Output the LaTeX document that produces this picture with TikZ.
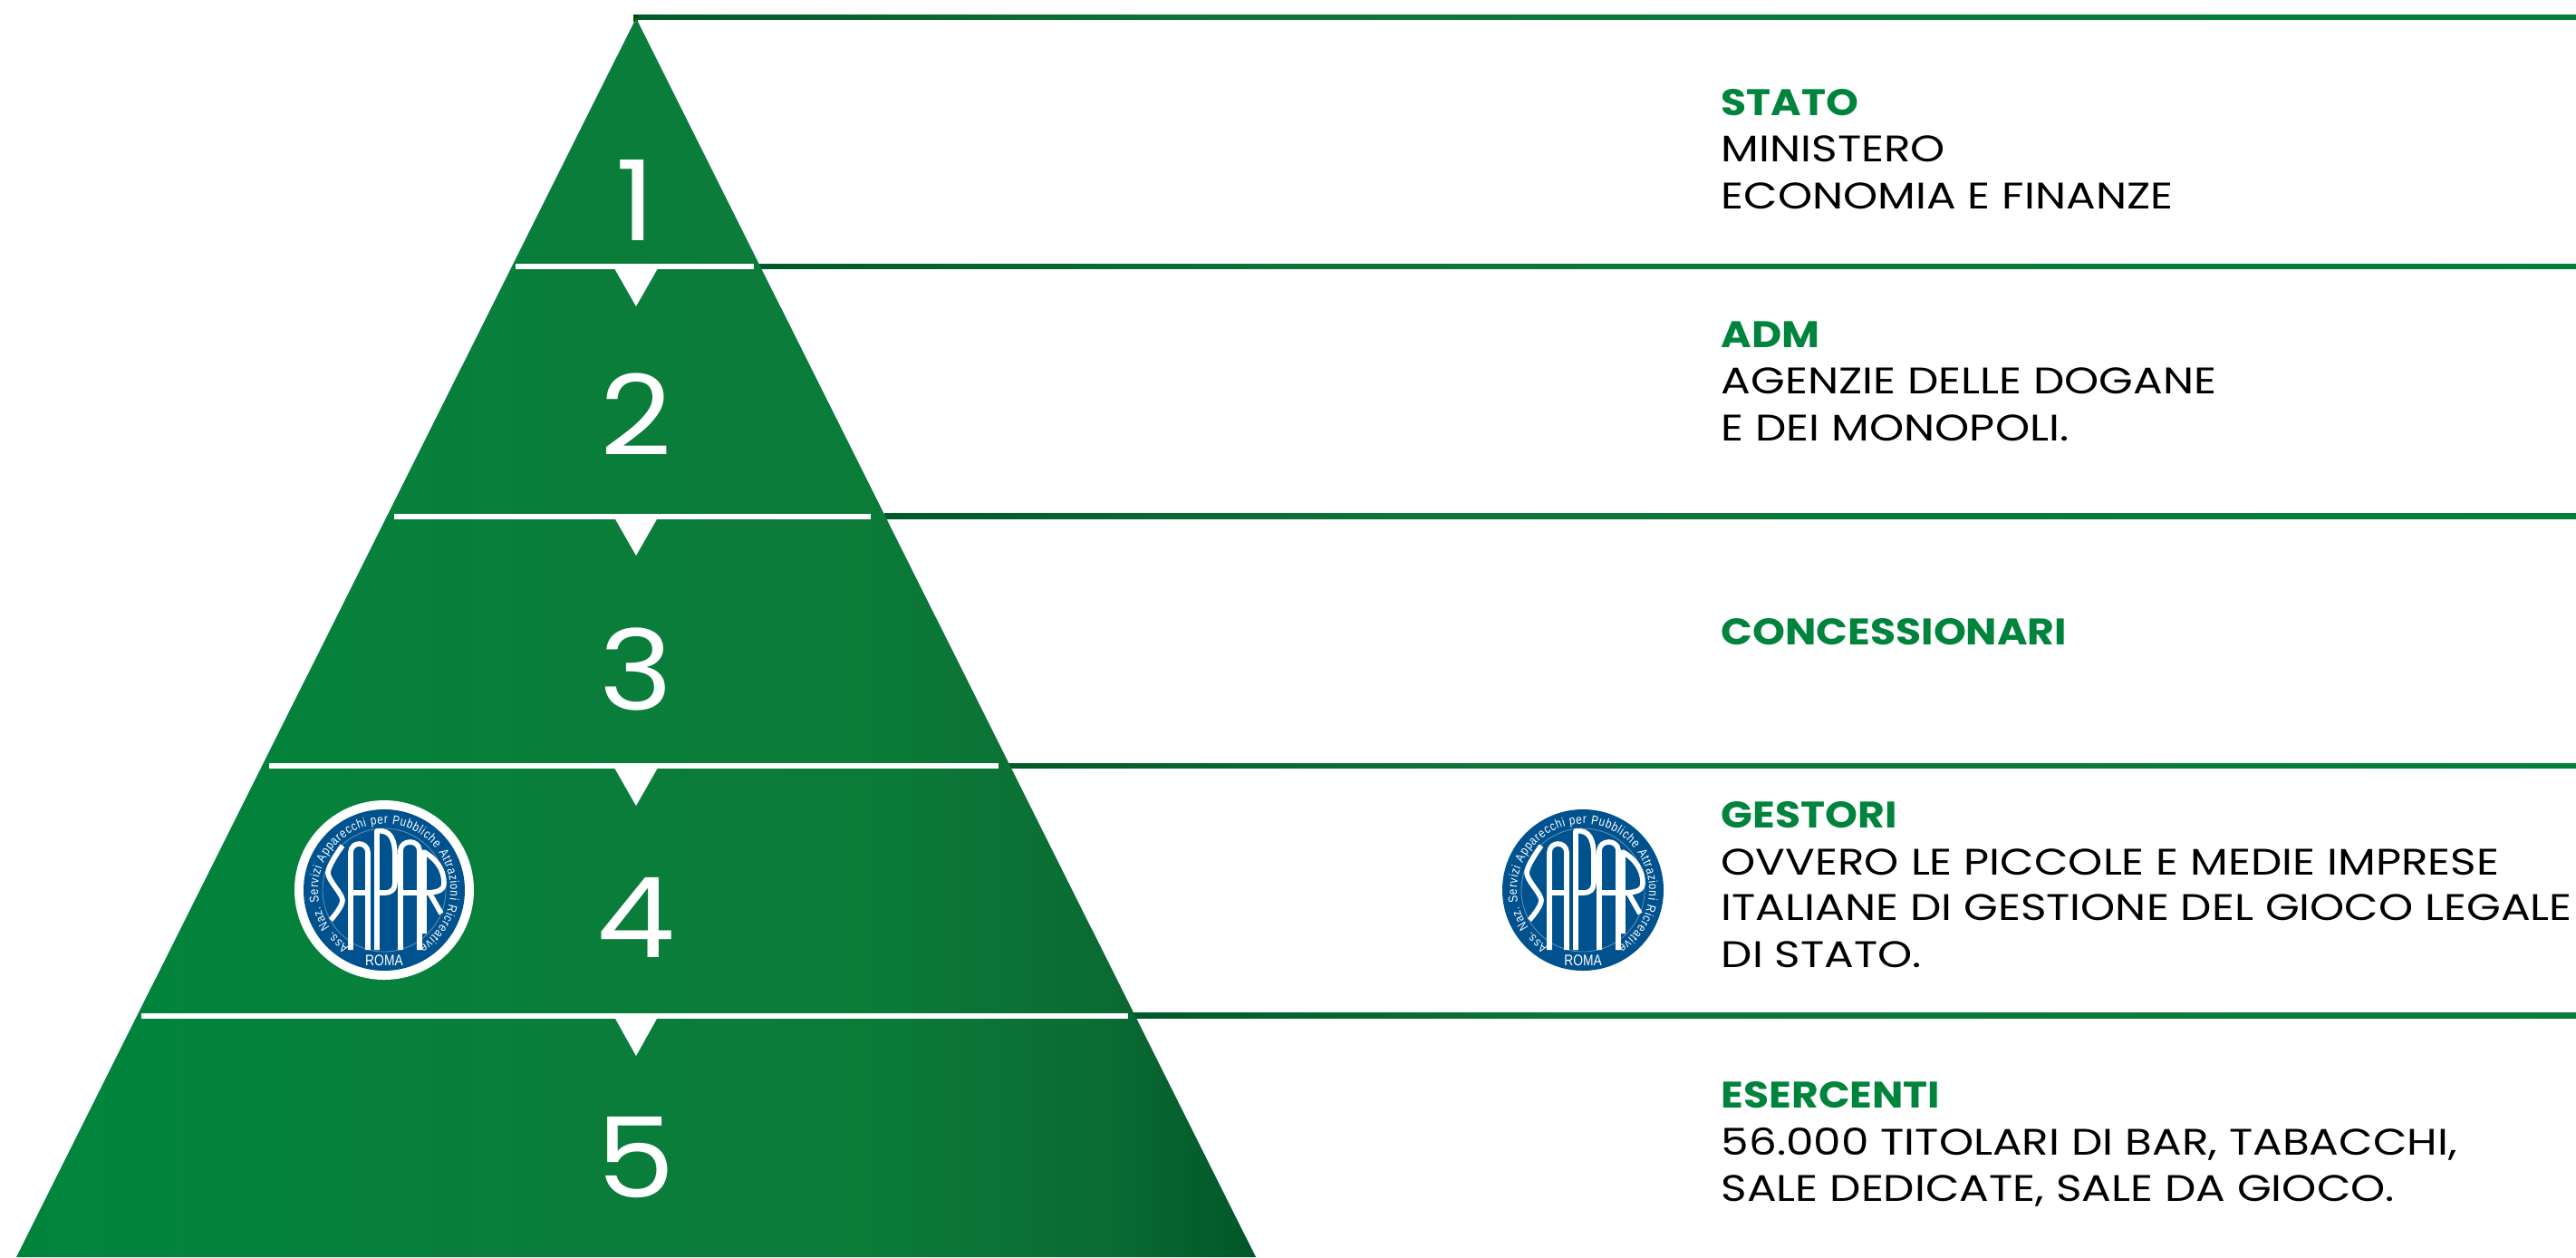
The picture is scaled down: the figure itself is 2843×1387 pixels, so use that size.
\documentclass[tikz,border=0pt]{standalone}
\usepackage{fontspec}
\usepackage{tikz}
\usetikzlibrary{decorations.text}
\setmainfont[FakeStretch=1.19]{Poppins}
\newfontfamily\headfont[FakeStretch=1.12]{Poppins Bold}
\newfontfamily\numfont[FakeStretch=1.12]{Poppins}
\newfontfamily\logofont[FakeStretch=0.82]{Liberation Sans}
\definecolor{headgreen}{HTML}{00843D}
\definecolor{saparblue}{HTML}{00528F}
\definecolor{saparrule}{HTML}{5C8DB8}
\pgfdeclarehorizontalshading{pyramidfill}{100bp}{rgb(0bp)=(0,0.52,0.23); rgb(25bp)=(0,0.52,0.23); rgb(50bp)=(0.04,0.49,0.23); rgb(60bp)=(0.045,0.48,0.22); rgb(69bp)=(0.04,0.42,0.2); rgb(75bp)=(0,0.34,0.16); rgb(100bp)=(0,0.34,0.16)}
\pgfdeclarehorizontalshading{levelfill}{100bp}{rgb(0bp)=(0,0.35,0.16); rgb(25bp)=(0,0.35,0.16); rgb(40bp)=(0.05,0.46,0.22); rgb(75bp)=(0,0.5,0.23); rgb(100bp)=(0,0.5,0.23)}
\newcommand{\saparlogo}[2]{
	\begin{scope}[shift={#1}]
		\fill [saparblue] (0,0) circle (89);
		\draw [saparrule,line width=0.25pt] (0,0) circle (68);
		\draw [white,line width=1.6pt,line join=round] plot [smooth] coordinates {(-46,49) (-62,19) (-46,-11) (-59,-33)};
		\draw [white,line width=1.6pt,line join=round] (-37,-66) -- (-37,42) .. controls (-36,54) and (-19,54) .. (-18,42) -- (-18,-66);
		\draw [white,line width=1.6pt,line join=round] (-37,-3) -- (-18,-3);
		\draw [white,line width=1.6pt,line join=round] (-8,-66) -- (-8,65) .. controls (8,67) and (12,55) .. (12,35) -- (12,10) .. controls (12,0) and (8,-3) .. (0,-3) -- (-8,-3);
		\draw [white,line width=1.6pt,line join=round] (18,-66) -- (18,44) .. controls (19,56) and (38,56) .. (39,44) -- (39,-66);
		\draw [white,line width=1.6pt,line join=round] (18,-3) -- (39,-3);
		\draw [white,line width=1.6pt,line join=round] (44,-48) -- (44,42) .. controls (58,34) and (66,22) .. (66,8) .. controls (66,0) and (60,-3) .. (44,-3);
		\draw [white,line width=1.6pt,line join=round] (50,-3) -- (63,-26);
		\path [decorate,decoration={text along path,text align=fit to path,text={|\logofont\fontsize{4}{5}\selectfont\color{white}|Ass. Naz. Servizi Apparecchi per Pubbliche Attrazioni Ricreative}}] (238:73) arc [start angle=238,end angle=-58,radius=73];
		\node [text=white,font=\logofont\fontsize{4.8}{5}\selectfont] (#2 roma) at (0,-78) {ROMA};
	\end{scope}
}
\begin{document}
\begin{tikzpicture}[x=0.01cm,y=0.01cm]
	\tikzstyle{every node}+=[inner sep=0pt]
	\tikzstyle{numlabel}=[anchor=base,text=white,font=\numfont\fontsize{35}{35}\selectfont]
	\tikzstyle{headlabel}=[anchor=base west,text=headgreen,font=\headfont\fontsize{11.6}{14}\selectfont]
	\tikzstyle{textlabel}=[anchor=base west,text=black,font=\fontsize{11.6}{14}\selectfont]
	\useasboundingbox (0,0) rectangle (2843,-1387);
	\fill [white] (0,0) rectangle (2843,-1387);
	\shade [shading=levelfill] (699,-16) rectangle (2843,-21);
	\fill [black!70!green] (699,-16) rectangle (704,-24);
	\shade [shading=levelfill] (838,-291) rectangle (2843,-296.5);
	\shade [shading=levelfill] (976,-566.5) rectangle (2843,-572);
	\shade [shading=levelfill] (1113,-842) rectangle (2843,-847.5);
	\shade [shading=levelfill] (1250,-1117.5) rectangle (2843,-1123);
	\shade [shading=pyramidfill] (702,-20) -- (1386,-1387) -- (18,-1387) -- cycle;
	\fill [white] (569,-291) rectangle (832,-297);
	\fill [white] (678,-296) -- (726,-296) -- (702,-338) -- cycle;
	\fill [white] (435,-566.5) rectangle (961,-572.5);
	\fill [white] (678,-571) -- (726,-571) -- (702,-613) -- cycle;
	\fill [white] (297,-842) rectangle (1102,-848);
	\fill [white] (678,-847) -- (726,-847) -- (702,-889) -- cycle;
	\fill [white] (156,-1117.5) rectangle (1245,-1123.5);
	\fill [white] (678,-1122) -- (726,-1122) -- (702,-1165) -- cycle;
	\node [numlabel] (num1) at (702,-265) {1};
	\node [numlabel] (num2) at (702,-502) {2};
	\node [numlabel] (num3) at (702,-783) {3};
	\node [numlabel] (num4) at (702,-1056) {4};
	\node [numlabel] (num5) at (702,-1321) {5};
	\fill [white] (424,-982) circle (99);
	\saparlogo{(424,-982)}{pyramid}
	\saparlogo{(1747,-982)}{side}
	\node [headlabel] (stato) at (1899,-127.7) {STATO};
	\node [textlabel] (stato1) at (1899,-178.3) {MINISTERO};
	\node [textlabel] (stato2) at (1899,-230.7) {ECONOMIA E FINANZE};
	\node [headlabel] (adm) at (1899,-383.3) {ADM};
	\node [textlabel] (adm1) at (1899,-434.3) {AGENZIE DELLE DOGANE};
	\node [textlabel] (adm2) at (1899,-486) {E DEI MONOPOLI.};
	\node [headlabel] (conc) at (1899,-711) {CONCESSIONARI};
	\node [headlabel] (gest) at (1899,-913.3) {GESTORI};
	\node [textlabel] (gest1) at (1899,-965) {OVVERO LE PICCOLE E MEDIE IMPRESE};
	\node [textlabel] (gest2) at (1899,-1015.7) {ITALIANE DI GESTIONE DEL GIOCO LEGALE};
	\node [textlabel] (gest3) at (1899,-1067) {DI STATO.};
	\node [headlabel] (eser) at (1899,-1222) {ESERCENTI};
	\node [textlabel] (eser1) at (1899,-1274) {56.000 TITOLARI DI BAR, TABACCHI,};
	\node [textlabel] (eser2) at (1899,-1325) {SALE DEDICATE, SALE DA GIOCO.};
\end{tikzpicture}
\end{document}
